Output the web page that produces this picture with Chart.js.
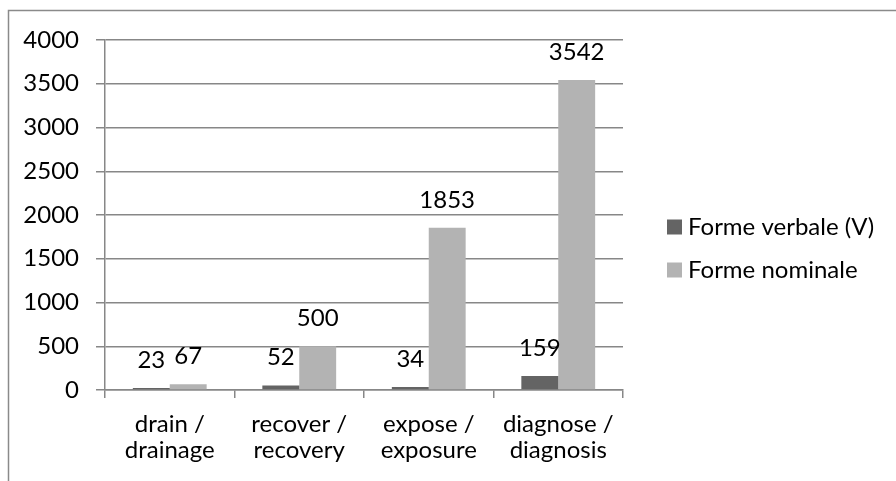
<!DOCTYPE html>
<html>
<head>
<meta charset="utf-8">
<script src="https://cdn.jsdelivr.net/npm/chart.js@4.4.1/dist/chart.umd.min.js"></script>
<style>
  html, body { margin: 0; padding: 0; background: #fff; }
  #wrap { width: 896px; height: 481px; }
</style>
</head>
<body>
<div id="wrap"><canvas id="motsChart" width="896" height="481"></canvas></div>
<script>
// données
const categories = [['drain /', 'drainage'], ['recover /', 'recovery'], ['expose /', 'exposure'], ['diagnose /', 'diagnosis']];
const formeVerbale = [23, 52, 34, 159];
const formeNominale = [67, 500, 1853, 3542];
const seriesNames = ['Forme verbale (V)', 'Forme nominale'];
const seriesColors = ['#646464', '#b3b3b3'];
const yTicks = [0, 500, 1000, 1500, 2000, 2500, 3000, 3500, 4000];

const FONT = 'Lato, "Liberation Sans", sans-serif';
const TAILLE = 24;
const GRIS = '#878787';

// cadre autour du graphique
const cadre = {
  id: 'cadre',
  beforeDraw(chart) {
    const c = chart.ctx;
    c.save();
    c.strokeStyle = '#8a8a8a';
    c.lineWidth = 1.5;
    c.strokeRect(8.5, 10.5, 900, 500);
    c.restore();
  }
};

// étiquettes de valeurs au-dessus des barres
const etiquettes = {
  id: 'etiquettes',
  afterDatasetsDraw(chart) {
    const c = chart.ctx;
    c.save();
    c.font = TAILLE + 'px ' + FONT;
    c.fillStyle = '#000';
    c.textAlign = 'center';
    c.textBaseline = 'middle';
    chart.data.datasets.forEach(function(ds, i) {
      chart.getDatasetMeta(i).data.forEach(function(bar, j) {
        c.fillText(ds.data[j], bar.x, bar.y - 28);
      });
    });
    c.restore();
  }
};

// légende à droite
const legende = {
  id: 'legende',
  afterDraw(chart) {
    const c = chart.ctx;
    c.save();
    c.font = TAILLE + 'px ' + FONT;
    c.textBaseline = 'middle';
    chart.data.datasets.forEach(function(ds, i) {
      const y = 227 + i * 43;
      c.fillStyle = ds.backgroundColor;
      c.fillRect(667, y - 7.5, 15, 15);
      c.fillStyle = '#000';
      c.fillText(ds.label, 688, y);
    });
    c.restore();
  }
};

new Chart(document.getElementById('motsChart'), {
  type: 'bar',
  data: {
    labels: categories,
    datasets: [
      { label: seriesNames[0], data: formeVerbale, backgroundColor: seriesColors[0] },
      { label: seriesNames[1], data: formeNominale, backgroundColor: seriesColors[1] }
    ]
  },
  options: {
    responsive: false,
    animation: false,
    devicePixelRatio: 1,
    layout: { padding: { top: 40, right: 273, bottom: 0, left: 0 } },
    datasets: { bar: { categoryPercentage: 0.57, barPercentage: 1 } },
    plugins: {
      legend: { display: false },
      tooltip: { enabled: false }
    },
    scales: {
      x: {
        afterFit(s) { s.height = 91; },
        grid: { offset: true, drawOnChartArea: false, color: GRIS, lineWidth: 1.5, tickLength: 8 },
        border: { color: GRIS, width: 1.5 },
        ticks: { color: '#000', padding: 14, maxRotation: 0, font: { family: FONT, size: TAILLE, lineHeight: 1.05 } }
      },
      y: {
        min: 0,
        max: 4000,
        afterFit(s) { s.width = 105; },
        afterBuildTicks(s) { s.ticks = yTicks.map(function(v) { return { value: v }; }); },
        grid: { color: GRIS, lineWidth: 1.5, tickLength: 9 },
        border: { color: GRIS, width: 1.5 },
        ticks: {
          color: '#000',
          padding: 17,
          font: { family: FONT, size: TAILLE },
          callback: function(v) { return String(v); }
        }
      }
    }
  },
  plugins: [cadre, etiquettes, legende]
});
</script>
</body>
</html>
